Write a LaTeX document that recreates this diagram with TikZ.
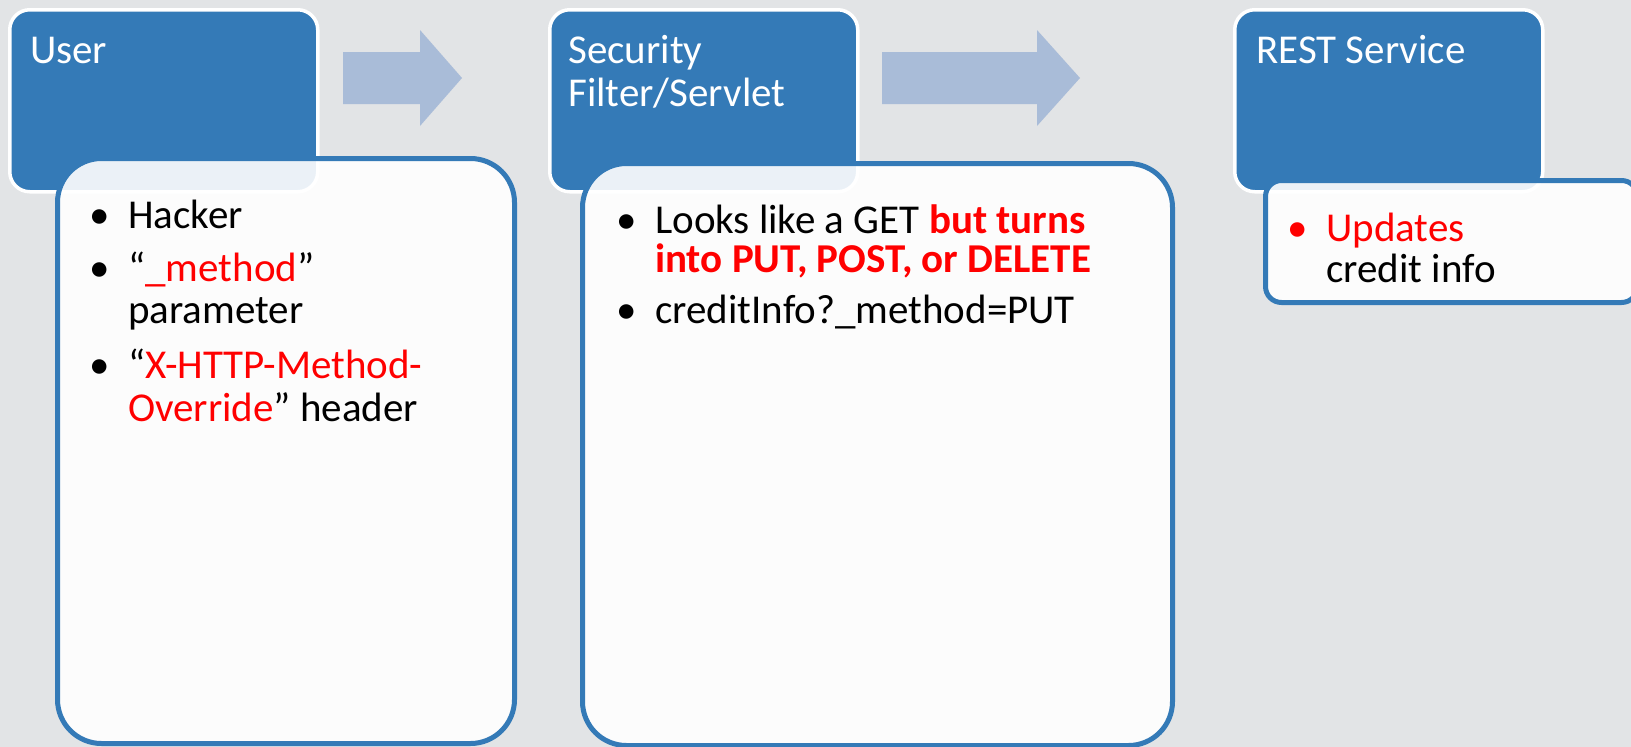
\documentclass[tikz,border=0pt]{standalone}
\usepackage{fontspec}
\setmainfont{Carlito}
\definecolor{bgpaper}{HTML}{E2E4E6}
\definecolor{boxblue}{HTML}{347AB7}
\definecolor{arrowblue}{HTML}{A9BCD8}
\definecolor{hotred}{HTML}{FF0000}
\newcommand{\itemlines}[2]{\vtop{\baselineskip=#1\relax #2}}
\newcommand{\bul}{\llap{\textbullet\hspace{18pt}}}
\begin{document}
\begin{tikzpicture}[x=1pt,y=-1pt,
  bluebox/.style={draw=white, line width=3.5pt, fill=boxblue, rounded corners=20pt,
    anchor=north west, inner sep=0pt, minimum width=308pt, minimum height=182pt},
  listbox/.style={draw=boxblue, line width=5pt, fill=white, fill opacity=0.9,
    rounded corners=44pt, anchor=north west, inner sep=0pt},
  titletext/.style={anchor=base west, text=white, font=\fontsize{41}{43}\selectfont, inner sep=0pt},
  listtext/.style={anchor=base west, text=black, font=\fontsize{41}{42}\selectfont, inner sep=0pt},
  blockarrow/.style={fill=arrowblue}
]
\useasboundingbox (0,0) rectangle (1631,747);
\fill[bgpaper] (0,0) rectangle (1631,747);

% blue header boxes
\node[bluebox] (user) at (8,8) {};
\node[bluebox] (sec) at (548,8) {};
\node[bluebox] (rest) at (1233,8) {};

% block arrows
\coordinate (a1) at (343,52);
\coordinate (a2) at (882,52);
\fill[blockarrow] (a1) -- ++(77,0) -- ++(0,-22) -- ++(42,48) -- ++(-42,48) -- ++(0,-22) -- ++(-77,0) -- cycle;
\fill[blockarrow] (a2) -- ++(155,0) -- ++(0,-22) -- ++(43,48) -- ++(-43,48) -- ++(0,-22) -- ++(-155,0) -- cycle;

% white list boxes
\node[listbox, minimum width=457pt, minimum height=585pt] (userlist) at (55,156) {};
\node[listbox, minimum width=590pt, minimum height=582pt] (seclist) at (580,161) {};
\node[listbox, rounded corners=16pt, minimum width=372pt, minimum height=122pt] (restlist) at (1263,178) {};

% titles
\node[titletext] (t1) at (30,63) {User};
\node[titletext] (t2) at (568,63) {\itemlines{43pt}{\hbox{Security}\hbox{Filter/Servlet}}};
\node[titletext] (t3) at (1256,63) {REST Service};

% user list
\node[listtext] (u1) at (128,228) {\bul Hacker};
\node[listtext] (u2) at (128,281) {\itemlines{42pt}{\hbox{\bul“\textcolor{hotred}{\_method}”}\hbox{parameter}}};
\node[listtext] (u3) at (128,378) {\itemlines{43pt}{\hbox{\bul“\textcolor{hotred}{X-HTTP-Method-}}\hbox{\textcolor{hotred}{Override}” header}}};

% security list
\node[listtext] (s1) at (655,233.5) {\itemlines{39pt}{\hbox{\bul Looks like a GET \textcolor{hotred}{\bfseries but turns}}\hbox{\textcolor{hotred}{\bfseries into PUT, POST, or DELETE}}}};
\node[listtext] (s2) at (655,323) {\bul creditInfo?\_method=PUT};

% rest list
\node[listtext] (r1) at (1326,241) {\itemlines{41pt}{\hbox{\llap{\textcolor{hotred}{\textbullet}\hspace{18pt}}\textcolor{hotred}{Updates}}\hbox{credit info}}};
\end{tikzpicture}
\end{document}
